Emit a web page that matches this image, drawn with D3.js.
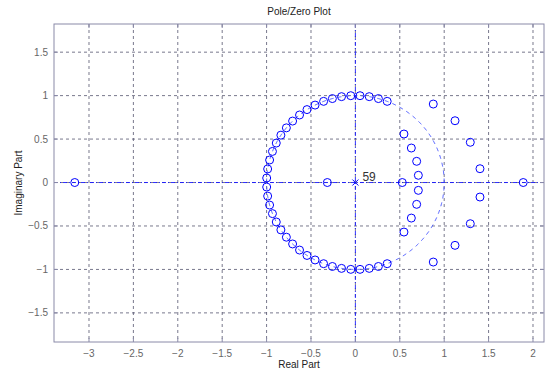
<!DOCTYPE html>
<html><head><meta charset="utf-8">
<script src="https://cdn.jsdelivr.net/npm/d3@7"></script>
<style>
html,body{margin:0;padding:0;background:#fff;}
svg text{font-family:"Liberation Sans",Arial,sans-serif;}
</style>
</head><body>
<svg id="c" width="547" height="373"></svg>
<script>
// Zeros (real, imaginary)
const zerosRe = [
  0.358, 0.259, 0.156, 0.052, -0.052, -0.156, -0.259, -0.358, -0.454, -0.545,
  -0.629, -0.707, -0.777, -0.839, -0.891, -0.934, -0.966, -0.988, -0.999,
  -0.999, -0.988, -0.966, -0.934, -0.891, -0.839, -0.777, -0.707, -0.629,
  -0.545, -0.454, -0.358, -0.259, -0.156, -0.052, 0.052, 0.156, 0.259, 0.358,
  -3.16, -0.316, 0.528, 1.89,
  0.547, 0.630, 0.690, 0.709, 0.709, 0.690, 0.630, 0.547,
  0.877, 1.122, 1.294, 1.403, 1.403, 1.294, 1.122, 0.877
];
const zerosIm = [
  0.934, 0.966, 0.988, 0.999, 0.999, 0.988, 0.966, 0.934, 0.891, 0.839,
  0.777, 0.707, 0.629, 0.545, 0.454, 0.358, 0.259, 0.156, 0.052,
  -0.052, -0.156, -0.259, -0.358, -0.454, -0.545, -0.629, -0.707, -0.777,
  -0.839, -0.891, -0.934, -0.966, -0.988, -0.999, -0.999, -0.988, -0.966, -0.934,
  0, 0, 0, 0,
  0.558, 0.397, 0.244, 0.083, -0.090, -0.251, -0.409, -0.570,
  0.903, 0.711, 0.463, 0.159, -0.167, -0.474, -0.723, -0.915
];
const polesRe = [0];
const polesIm = [0];
const poleMultiplicity = ["59"];
const xTicks = [-3, -2.5, -2, -1.5, -1, -0.5, 0, 0.5, 1, 1.5, 2];
const yTicks = [-1.5, -1, -0.5, 0, 0.5, 1, 1.5];
const xDomain = [-3.394, 2.124];
const yDomain = [-1.835, 1.824];

const W = 547, H = 373;
const m = {l: 54, t: 24, r: 3, b: 31};
const pw = W - m.l - m.r, ph = H - m.t - m.b;
const svg = d3.select("#c");
svg.append("rect").attr("width", W).attr("height", H).attr("fill", "#fff");
const g = svg.append("g").attr("transform", `translate(${m.l},${m.t})`);
const x = d3.scaleLinear().domain(xDomain).range([0, pw]);
const y = d3.scaleLinear().domain(yDomain).range([ph, 0]);

const axisCol = "#8a8aa8", gridCol = "#55556e", txtCol = "#666666";

// grid
g.append("g").selectAll("line").data(xTicks).join("line")
  .attr("x1", d => x(d)).attr("x2", d => x(d)).attr("y1", 0).attr("y2", ph)
  .attr("stroke", gridCol).attr("stroke-width", 0.8).attr("stroke-dasharray", "3,3");
g.append("g").selectAll("line").data(yTicks).join("line")
  .attr("y1", d => y(d)).attr("y2", d => y(d)).attr("x1", 0).attr("x2", pw)
  .attr("stroke", gridCol).attr("stroke-width", 0.8).attr("stroke-dasharray", "3,3");

// axes lines through origin (dash-dot)
g.append("line").attr("x1", 0).attr("x2", pw).attr("y1", y(0)).attr("y2", y(0))
  .attr("stroke", "#1a1aff").attr("stroke-width", 0.9).attr("stroke-dasharray", "4,2,1,2");
g.append("line").attr("x1", x(0)).attr("x2", x(0)).attr("y1", 0).attr("y2", ph)
  .attr("stroke", "#1a1aff").attr("stroke-width", 0.9).attr("stroke-dasharray", "4,2,1,2");

// unit circle
const uc = d3.line().x(d => x(Math.cos(d))).y(d => y(Math.sin(d)));
g.append("path").datum(d3.range(0, 2 * Math.PI + 0.01, 0.01)).attr("d", uc)
  .attr("fill", "none").attr("stroke", "#3b4bff").attr("stroke-width", 0.9)
  .attr("stroke-dasharray", "4,4");

// zeros
g.append("g").selectAll("circle").data(d3.range(zerosRe.length)).join("circle")
  .attr("cx", i => x(zerosRe[i])).attr("cy", i => y(zerosIm[i])).attr("r", 4)
  .attr("fill", "none").attr("stroke", "#0000ff").attr("stroke-width", 1);

// poles
const pg = g.append("g").selectAll("g").data(d3.range(polesRe.length)).join("g")
  .attr("transform", i => `translate(${x(polesRe[i])},${y(polesIm[i])})`);
pg.append("path").attr("d", "M-3,-3L3,3M-3,3L3,-3").attr("stroke", "#0000ff").attr("stroke-width", 1);
pg.append("text").attr("x", 7).attr("y", -2).attr("font-size", 12).attr("fill", "#333")
  .text(i => poleMultiplicity[i]);

// box
g.append("rect").attr("width", pw).attr("height", ph).attr("fill", "none")
  .attr("stroke", axisCol).attr("stroke-width", 1);

// ticks (inward) on all sides
const tl = 4;
xTicks.forEach(t => {
  g.append("line").attr("x1", x(t)).attr("x2", x(t)).attr("y1", ph).attr("y2", ph - tl).attr("stroke", axisCol);
  g.append("line").attr("x1", x(t)).attr("x2", x(t)).attr("y1", 0).attr("y2", tl).attr("stroke", axisCol);
});
yTicks.forEach(t => {
  g.append("line").attr("y1", y(t)).attr("y2", y(t)).attr("x1", 0).attr("x2", tl).attr("stroke", axisCol);
  g.append("line").attr("y1", y(t)).attr("y2", y(t)).attr("x1", pw).attr("x2", pw - tl).attr("stroke", axisCol);
});

// tick labels
g.append("g").selectAll("text").data(xTicks).join("text")
  .attr("x", d => x(d)).attr("y", ph + 15).attr("text-anchor", "middle")
  .attr("font-size", 10).attr("fill", txtCol).text(d => d3.format("")(d));
g.append("g").selectAll("text").data(yTicks).join("text")
  .attr("x", -6).attr("y", d => y(d) + 3.5).attr("text-anchor", "end")
  .attr("font-size", 10).attr("fill", txtCol).text(d => d3.format("")(d));

// titles
svg.append("text").attr("x", m.l + pw / 2).attr("y", 15).attr("text-anchor", "middle")
  .attr("font-size", 10).attr("fill", "#222").text("Pole/Zero Plot");
svg.append("text").attr("x", m.l + pw / 2).attr("y", 368).attr("text-anchor", "middle")
  .attr("font-size", 10).attr("fill", "#222").text("Real Part");
svg.append("text").attr("transform", `translate(22,${m.t + ph / 2}) rotate(-90)`)
  .attr("text-anchor", "middle").attr("font-size", 10).attr("fill", "#222").text("Imaginary Part");
</script>
</body></html>
